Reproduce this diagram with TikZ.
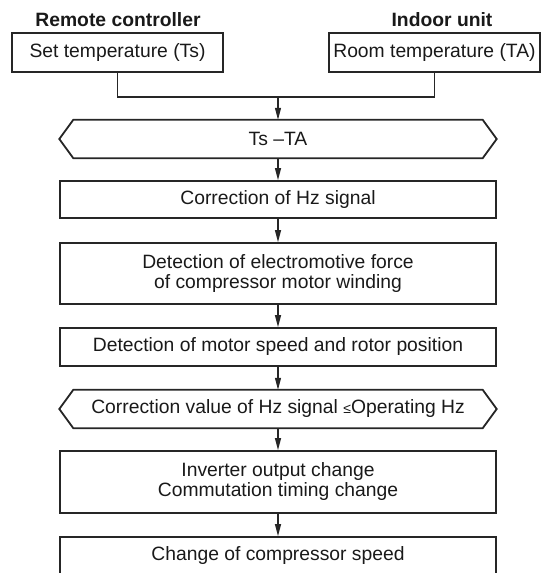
\documentclass[tikz,border=0pt]{standalone}
\usepackage{fontspec}
\setmainfont{Liberation Sans}
\usepackage{tikz}
\usetikzlibrary{arrows.meta,positioning,calc}

\begin{document}
\begin{tikzpicture}[x=1pt, y=-1pt,
    every node/.style={font=\fontsize{19.3}{20}\selectfont, text=black!90, inner sep=0pt},
    head/.style={font=\fontsize{19.3}{20}\selectfont\bfseries},
    inbox/.style={draw=black!85, line width=1.8pt, minimum width=211pt, minimum height=39pt},
    stepbox/.style={draw=black!85, line width=1.8pt, minimum width=436pt, align=center},
    hexbox/.style={minimum width=409pt, minimum height=38pt},
    arr/.style={-{Triangle[length=12pt,width=6pt]}, line width=1.2pt, black!85},
    link/.style={line width=1.2pt, black!85}]
    \useasboundingbox (0,0) rectangle (542,573);
    % inputs
    \node[head] (rc) at (118,20) {Remote controller};
    \node[head] (iu) at (442,20) {Indoor unit};
    \node[inbox] (ts) at (117.5,52.5) {Set temperature (Ts)};
    \node[inbox] (ta) at (434.5,52.5) {Room temperature (TA)};
    \coordinate (join) at (278,97);
    \draw[link] (ts.south) |- (join);
    \draw[link] (ta.south) |- (join);
    % flow
    \node[hexbox] (diff) at (278,139) {Ts \textendash TA};
    \node[stepbox, minimum height=37pt] (corr) at (278,199.5) {Correction of Hz signal};
    \node[stepbox, minimum height=61pt] (emf) at (278,273.5) {Detection of electromotive force\\of compressor motor winding};
    \node[stepbox, minimum height=38pt] (spd) at (278,347) {Detection of motor speed and rotor position};
    \node[hexbox] (cmp) at (278,409) {Correction value of Hz signal {\fontsize{14}{14}\selectfont≤}Operating Hz};
    \node[stepbox, minimum height=62pt] (inv) at (278,482) {Inverter output change\\Commutation timing change};
    \node[stepbox, minimum height=38pt] (chg) at (278,556) {Change of compressor speed};
    \foreach \h in {diff,cmp}{
      \draw[black!85, line width=1.8pt, line join=miter] (\h.north west) -- (\h.north east) -- ([xshift=14pt]\h.east)
        -- (\h.south east) -- (\h.south west) -- ([xshift=-14pt]\h.west) -- cycle;
    }
    \draw[arr] (join) -- (diff.north);
    \foreach \a/\b in {diff/corr,corr/emf,emf/spd,spd/cmp,cmp/inv,inv/chg}{
      \draw[arr] (\a.south) -- (\b.north);
    }
\end{tikzpicture}
\end{document}
